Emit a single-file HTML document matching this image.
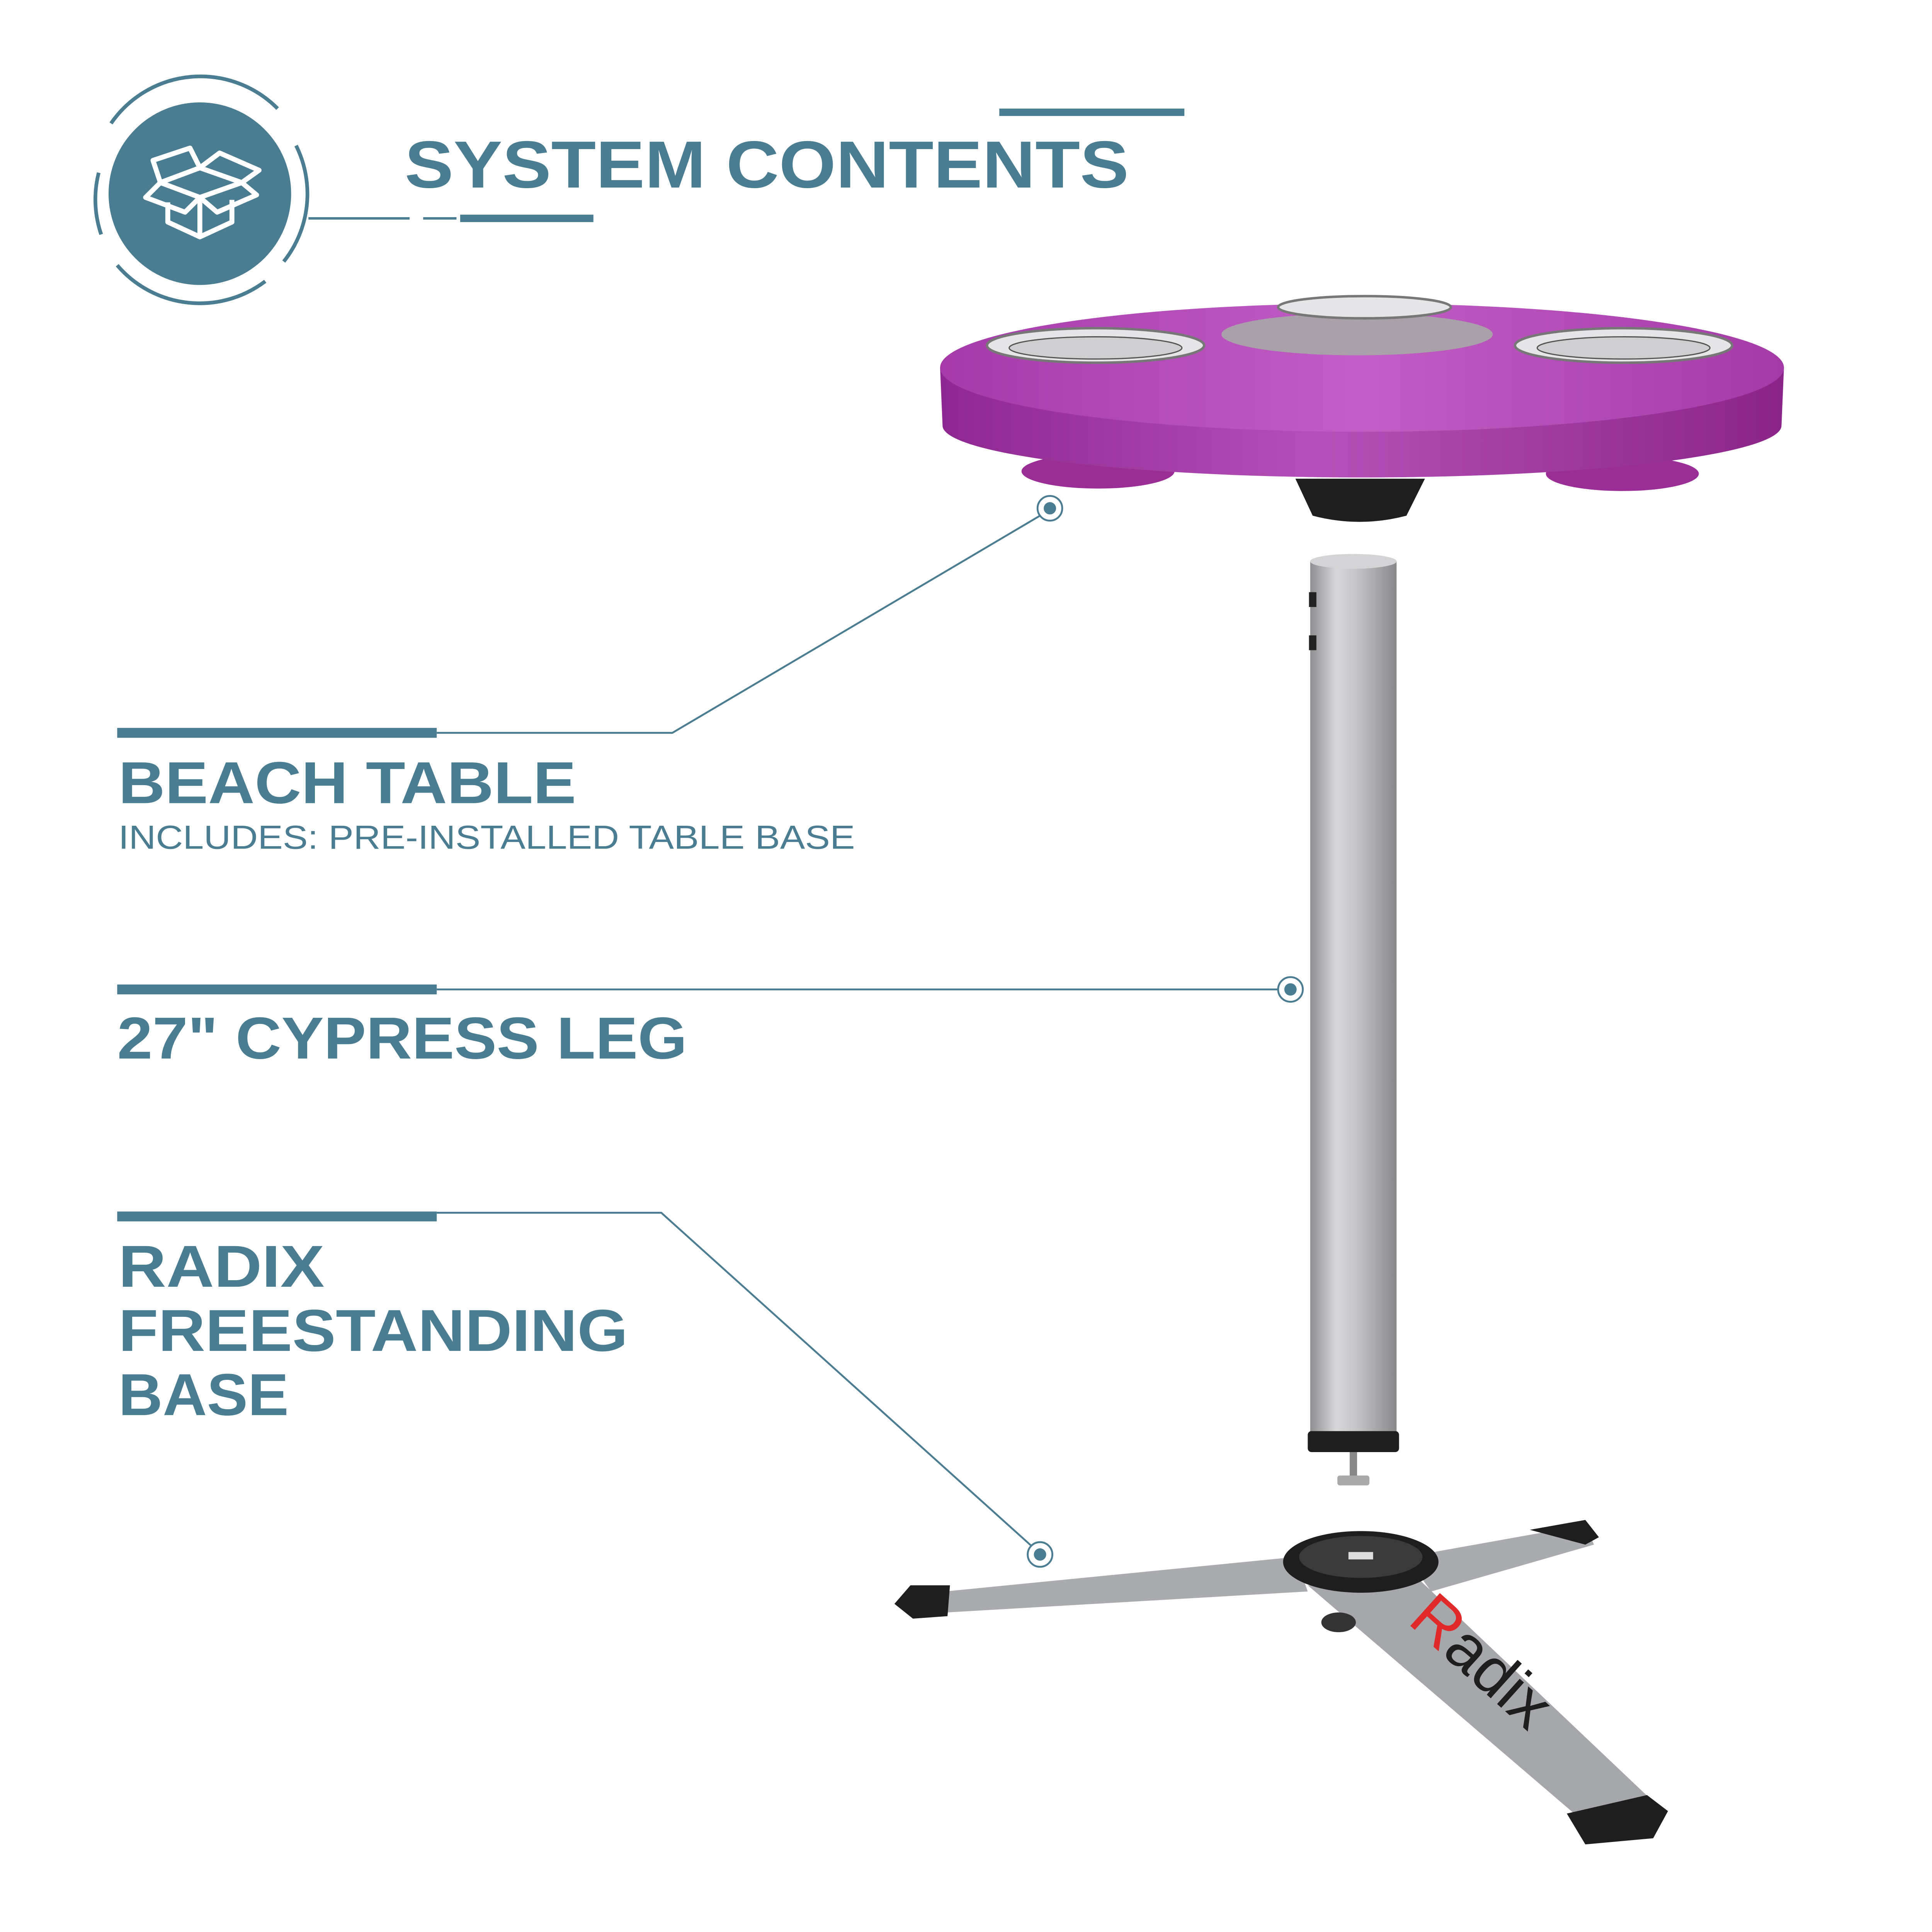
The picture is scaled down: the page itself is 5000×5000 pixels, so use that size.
<!DOCTYPE html>
<html><head><meta charset="utf-8"><style>html,body{margin:0;padding:0;background:#fff}svg{display:block}</style></head>
<body>
<svg width="5000" height="5000" viewBox="0 0 1566 1566" xmlns="http://www.w3.org/2000/svg">
<defs>
<linearGradient id="leg" x1="0" x2="1" y1="0" y2="0">
<stop offset="0" stop-color="#8e8e90"/><stop offset="0.3" stop-color="#d8d8da"/><stop offset="0.55" stop-color="#c4c4c6"/><stop offset="1" stop-color="#88888a"/></linearGradient>
<linearGradient id="top" x1="0" x2="1"><stop offset="0" stop-color="#a53aa8"/><stop offset="0.5" stop-color="#c25ec6"/><stop offset="1" stop-color="#a43aa6"/></linearGradient>
<linearGradient id="side" x1="0" x2="1"><stop offset="0" stop-color="#8e2790"/><stop offset="0.45" stop-color="#b550b8"/><stop offset="1" stop-color="#8a2489"/></linearGradient>
</defs>
<rect width="1566" height="1566" fill="#fff"/>
<g fill="none" stroke="#4a7d91">
<circle cx="162" cy="157" r="74" fill="#4a7d91" stroke="none"/>
<path d="M90 100 A88 88 0 0 1 225 88" stroke-width="3"/>
<path d="M240 118 A88 88 0 0 1 230 212" stroke-width="3"/>
<path d="M215 228 A88 88 0 0 1 95 215" stroke-width="3"/>
<path d="M80 140 A88 88 0 0 0 82 190" stroke-width="3"/>
<line x1="250" y1="177" x2="332" y2="177" stroke-width="2"/>
<line x1="343" y1="177" x2="370" y2="177" stroke-width="2"/>
<line x1="373" y1="177" x2="481" y2="177" stroke-width="6"/>
<line x1="810" y1="91" x2="960" y2="91" stroke-width="6"/>
<g stroke="#fff" stroke-width="4" stroke-linejoin="round">
<path d="M130 148 L162 136 L196 148 L162 160 Z"/>
<path d="M136 164 L136 180 L162 192 L188 180 L188 162"/>
<line x1="162" y1="160" x2="162" y2="192"/>
<path d="M130 148 L118 160 L150 172 L162 160"/>
<path d="M196 148 L208 158 L176 172 L162 160"/>
<path d="M130 148 L124 130 L154 120 L162 136"/>
<path d="M162 136 L178 124 L210 138 L196 148"/>
</g>
<line x1="95" y1="594" x2="354" y2="594" stroke-width="8"/>
<polyline points="354,594 545,594 843,418" stroke-width="1.5"/>
<line x1="95" y1="802" x2="354" y2="802" stroke-width="8"/>
<line x1="354" y1="802" x2="1036" y2="802" stroke-width="1.5"/>
<line x1="95" y1="986" x2="354" y2="986" stroke-width="8"/>
<polyline points="354,983 536,983 836,1253" stroke-width="1.5"/>
</g>
<g font-family="'Liberation Sans',sans-serif" font-weight="bold" fill="#4a7d91">
<text x="328" y="152" font-size="54" textLength="587" lengthAdjust="spacingAndGlyphs">SYSTEM CONTENTS</text>
<text x="96" y="651" font-size="48" textLength="371" lengthAdjust="spacingAndGlyphs">BEACH TABLE</text>
<text x="95" y="858" font-size="48" textLength="462" lengthAdjust="spacingAndGlyphs">27" CYPRESS LEG</text>
<text x="96" y="1043" font-size="48" textLength="167" lengthAdjust="spacingAndGlyphs">RADIX</text>
<text x="96" y="1095" font-size="48" textLength="413" lengthAdjust="spacingAndGlyphs">FREESTANDING</text>
<text x="96" y="1147" font-size="48" textLength="138" lengthAdjust="spacingAndGlyphs">BASE</text>
<text x="96" y="688" font-size="27" font-weight="normal" textLength="597" lengthAdjust="spacingAndGlyphs">INCLUDES: PRE-INSTALLED TABLE BASE</text>
</g>
<ellipse cx="890" cy="382" rx="62" ry="14" fill="#9a2d96"/>
<ellipse cx="1315" cy="384" rx="62" ry="14" fill="#9a2d96"/>
<path d="M1050 388 L1155 388 L1140 418 Q1102 428 1064 418 Z" fill="#1e1e1e"/>
<path d="M762 298 L764 345 A340 42 0 0 0 1444 345 L1446 298 Z" fill="url(#side)"/>
<ellipse cx="1104" cy="298" rx="342" ry="52" fill="url(#top)"/>
<ellipse cx="1100" cy="271" rx="110" ry="17" fill="#a9a0aa"/>
<ellipse cx="888" cy="280" rx="88" ry="14" fill="#e6e6e8" stroke="#777" stroke-width="2"/>
<ellipse cx="888" cy="282" rx="70" ry="9" fill="#cfcfd2" stroke="#555"/>
<ellipse cx="1316" cy="280" rx="88" ry="14" fill="#e6e6e8" stroke="#777" stroke-width="2"/>
<ellipse cx="1316" cy="282" rx="70" ry="9" fill="#cfcfd2" stroke="#555"/>
<ellipse cx="1106" cy="249" rx="70" ry="9" fill="#e6e6e8" stroke="#777" stroke-width="2"/>
<rect x="1062" y="455" width="70" height="710" fill="url(#leg)"/>
<ellipse cx="1097" cy="455" rx="35" ry="6" fill="#d4d4d6"/>
<rect x="1060" y="1160" width="74" height="17" rx="3" fill="#1e1e1e"/>
<rect x="1094" y="1177" width="6" height="20" fill="#888"/>
<rect x="1084" y="1196" width="26" height="8" rx="2" fill="#aaa"/>
<rect x="1061" y="480" width="6" height="12" fill="#222"/>
<rect x="1061" y="515" width="6" height="12" fill="#222"/>
<path d="M735 1293 L1050 1262 L1060 1290 L750 1308 Z" fill="#a9abae"/>
<path d="M1140 1262 L1285 1236 L1292 1252 L1160 1290 Z" fill="#a9abae"/>
<path d="M1060 1285 L1150 1280 L1345 1465 L1290 1482 Z" fill="#a5a7aa"/>
<path d="M725 1300 L738 1285 L770 1285 L768 1310 L740 1312 Z" fill="#1e1e1e"/>
<path d="M1240 1240 L1285 1232 L1296 1246 L1285 1252 Z" fill="#1e1e1e"/>
<path d="M1270 1470 L1335 1455 L1352 1468 L1340 1490 L1285 1495 Z" fill="#1e1e1e"/>
<ellipse cx="1085" cy="1315" rx="14" ry="8" fill="#333"/>
<ellipse cx="1103" cy="1266" rx="63" ry="25" fill="#1e1e1e"/>
<ellipse cx="1103" cy="1262" rx="50" ry="17" fill="#3a3a3a"/>
<rect x="1093" y="1258" width="20" height="6" fill="#ddd"/>
<text x="1140" y="1315" font-family="'Liberation Sans',sans-serif" font-size="52" fill="#1e1e1e" transform="rotate(42 1140 1315)"><tspan fill="#e02a2a">R</tspan>adix</text>
<g fill="none" stroke="#4a7d91" stroke-width="1.5">
<circle cx="851" cy="412" r="10"/><circle cx="1046" cy="802" r="10"/><circle cx="843" cy="1260" r="10"/>
</g>
<g fill="#4a7d91"><circle cx="851" cy="412" r="5"/><circle cx="1046" cy="802" r="5"/><circle cx="843" cy="1260" r="5"/></g>
</svg>
</body></html>
